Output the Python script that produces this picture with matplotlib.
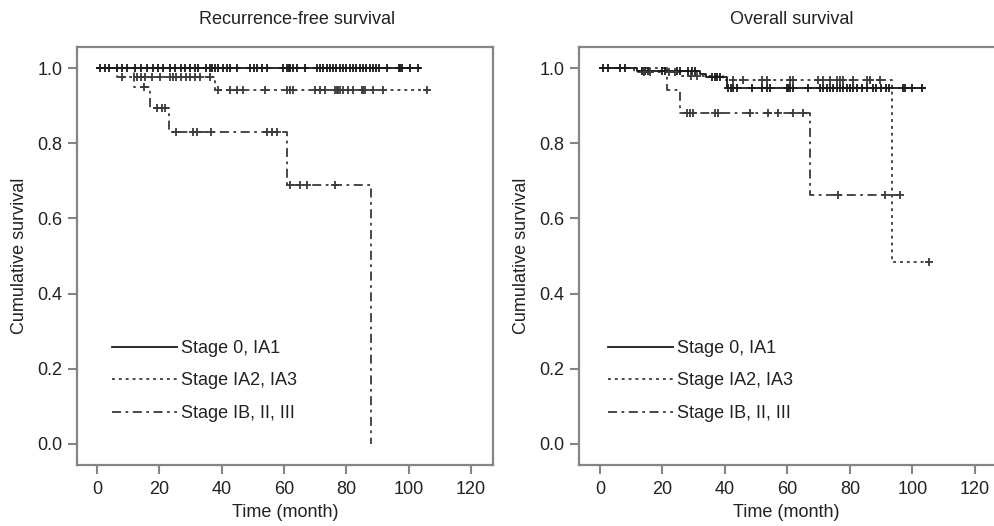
import matplotlib
matplotlib.use("Agg")
import matplotlib.pyplot as plt
import numpy as np
from matplotlib.lines import Line2D

plt.rcParams['font.family'] = ['Liberation Sans', 'DejaVu Sans']

# ---------------- data ----------------
group_labels = ["Stage 0, IA1", "Stage IA2, IA3", "Stage IB, II, III"]
xticks = [0, 20, 40, 60, 80, 100, 120]
yticks = [0.0, 0.2, 0.4, 0.6, 0.8, 1.0]

# Recurrence-free survival
rfs_g1_t = [0]
rfs_g1_s = [1.0]
rfs_g1_end = 103.5
rfs_g1_cens = [1, 2.6, 4, 6.3, 8, 9.5, 12.2, 14, 15.9, 18, 19.7, 21.3, 23.4, 25, 27,
               28.2, 29.8, 31.4, 32.5, 35, 36.3, 37, 37.9, 38.9, 40.5, 41.6, 42.7,
               44.8, 49.1, 50.5, 51.2, 52.8, 54.4, 59.8, 60.8, 61.5, 61.9, 63, 64,
               66.7, 70.5, 71.6, 72.6, 73.7, 74.7, 75.8, 76.8, 77.9, 78.9, 80, 81,
               82, 83.2, 84.2, 85.3, 86.3, 87.4, 88.4, 89.5, 90.5, 92.9, 97, 97.2,
               97.7, 100.4, 103.1]

rfs_g2_t = [0, 6.4, 37.9]
rfs_g2_s = [1.0, 0.977, 0.941]
rfs_g2_end = 105.7
rfs_g2_cens = [7.9, 12.7, 14.1, 15.5, 17.5, 20.2, 23.4, 24.5, 25.5, 27.1, 28.7,
               29.8, 31.4, 33, 36.3, 38.9, 42.7, 44.8, 46.9, 53.9, 60.8, 61.9, 63,
               69.9, 71.6, 73.2, 76.4, 76.9, 77.4, 78, 79, 80.6, 82.2, 84.9, 85.4,
               86, 88.6, 91.8, 105.7]

rfs_g3_t = [0, 11.8, 17.0, 23.1, 60.8, 87.9]
rfs_g3_s = [1.0, 0.95, 0.893, 0.829, 0.689, 0.0]
rfs_g3_end = 87.9
rfs_g3_cens = [15, 19.3, 20.9, 21.9, 25.5, 30.9, 32, 36.5, 54.4, 56, 57.6,
               61.9, 65.1, 67.3, 76.4]

# Overall survival
os_g1_t = [0, 12, 32, 34, 40.5]
os_g1_s = [1.0, 0.993, 0.985, 0.977, 0.946]
os_g1_end = 104
os_g1_cens = [1.1, 2.7, 6.4, 8, 13.3, 14.4, 15.5, 19.7, 20.8, 24.5, 25.6, 28.3,
              29.3, 30.4, 35.7, 36.8, 37.5, 38.4, 41, 41.8, 42.5, 43.7, 48.5,
              51.7, 53.3, 54.4, 59.7, 60.2, 60.8, 61.9, 66.7, 70.4, 71.5, 72.6,
              73.6, 74.7, 75.7, 76.8, 77.9, 78.9, 80, 81.1, 82.1, 83.7, 85.3,
              87.4, 88.4, 90, 91.6, 92.6, 97, 97.5, 99.7, 102.9]

os_g2_t = [0, 11, 26, 39.5, 93.5]
os_g2_s = [1.0, 0.99, 0.979, 0.968, 0.484]
os_g2_end = 105.3
os_g2_cens = [14, 16, 22, 24, 29, 31, 42.7, 45.9, 51.7, 53.3, 60.8, 61.9, 69.9,
              71.5, 73.6, 75.7, 76.8, 77.9, 81.1, 85.3, 86.4, 89.6, 105.3]

os_g3_t = [0, 21.4, 25.6, 67.2]
os_g3_s = [1.0, 0.941, 0.881, 0.661]
os_g3_end = 96
os_g3_cens = [27.7, 28.8, 29.9, 36.8, 37.9, 48, 53.9, 57.1, 61.9, 65, 76.3,
              91.2, 96]

# ---------------- styling ----------------
line_colors = ['#1a1a1a', '#3a3a3a', '#3a3a3a']
line_styles = ['-', (0, (1.6, 2.2)), (0, (5, 2.5, 1.5, 2.5))]
spine_color = '#858585'
text_color = '#222222'
FS = 13


def surv_at(t_steps, s_steps, t):
    idx = np.searchsorted(np.asarray(t_steps), t, side='right') - 1
    return np.asarray(s_steps)[idx]


def draw_group(ax, t, s, end, cens, k):
    xs = list(t) + [end]
    ys = list(s) + [s[-1]]
    ax.step(xs, ys, where='post', color=line_colors[k], linestyle=line_styles[k],
            linewidth=1.3, zorder=3 - k * 0.1)
    cy = surv_at(t, s, np.asarray(cens))
    ax.plot(cens, cy, linestyle='none', marker='+', markersize=6,
            markeredgewidth=1.3, color=line_colors[k], zorder=4)


def style_axes(ax, xlim):
    ax.set_xlim(*xlim)
    ax.set_ylim(-0.056, 1.056)
    ax.set_xticks(xticks)
    ax.set_yticks(yticks)
    ax.set_yticklabels([f"{v:.1f}" for v in yticks])
    for sp in ax.spines.values():
        sp.set_color(spine_color)
        sp.set_linewidth(1.6)
    ax.tick_params(axis='both', direction='out', length=6.5, width=1.5,
                   color=spine_color, labelsize=FS, labelcolor=text_color)
    ax.tick_params(axis='y', pad=4)
    ax.tick_params(axis='x', pad=5)
    ax.set_xlabel("Time (month)", fontsize=FS, color=text_color, labelpad=4)
    ax.set_ylabel("Cumulative survival", fontsize=FS, color=text_color, labelpad=7)


def add_legend(ax, xfrac):
    handles = [Line2D([], [], color=line_colors[k], linestyle=line_styles[k],
                      linewidth=1.3) for k in range(3)]
    leg = ax.legend(handles, group_labels, loc='center left',
                    bbox_to_anchor=(xfrac, 0.201), frameon=False, fontsize=FS,
                    handlelength=3.6, handletextpad=0.22, labelspacing=0.85,
                    borderpad=0, borderaxespad=0)
    for txt in leg.get_texts():
        txt.set_color(text_color)


fig = plt.figure(figsize=(9.94, 5.26), dpi=100)
W, H = 994, 526
ax1 = fig.add_axes([77 / W, 1 - 465 / H, (493 - 77) / W, (465 - 47) / H])
ax2 = fig.add_axes([579 / W, 1 - 465 / H, (994 - 579) / W, (465 - 47) / H])

for k, (t, s, e, c) in enumerate([(rfs_g1_t, rfs_g1_s, rfs_g1_end, rfs_g1_cens),
                                   (rfs_g2_t, rfs_g2_s, rfs_g2_end, rfs_g2_cens),
                                   (rfs_g3_t, rfs_g3_s, rfs_g3_end, rfs_g3_cens)]):
    draw_group(ax1, t, s, e, c, k)
for k, (t, s, e, c) in enumerate([(os_g1_t, os_g1_s, os_g1_end, os_g1_cens),
                                   (os_g2_t, os_g2_s, os_g2_end, os_g2_cens),
                                   (os_g3_t, os_g3_s, os_g3_end, os_g3_cens)]):
    draw_group(ax2, t, s, e, c, k)

style_axes(ax1, (-6.4, 127))
style_axes(ax2, (-6.7, 126.1))
ax2.spines['right'].set_visible(False)

add_legend(ax1, 0.084)
add_legend(ax2, 0.0706)

fig.text(296.7 / W, 1 - 19 / H, "Recurrence-free survival", ha='center', va='center',
         fontsize=FS, color=text_color)
fig.text(791.7 / W, 1 - 19 / H, "Overall survival", ha='center', va='center',
         fontsize=FS, color=text_color)

fig.savefig("out.png", dpi=100)
